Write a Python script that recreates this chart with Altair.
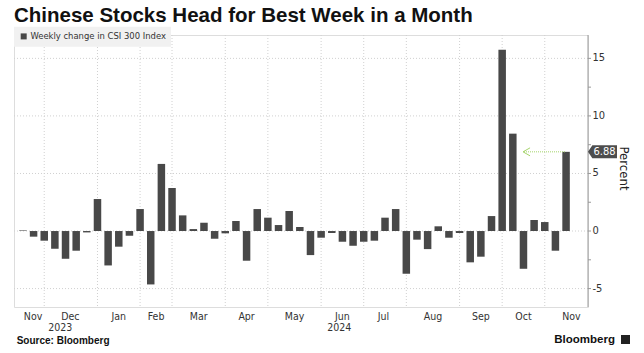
import altair as alt
import pandas as pd

# ---------------- data ----------------
week_index = list(range(1, 53))
weekly_change = [0.05, -0.49, -0.84, -1.54, -2.41, -1.71, -0.12, 2.78, -2.99, -1.36,
                 -0.41, 1.91, -4.64, 5.83, 3.74, 1.36, 0.17, 0.72, -0.67, -0.20,
                 0.87, -2.58, 1.91, 1.16, 0.52, 1.74, 0.35, -2.09, -0.58, -0.17,
                 -0.93, -1.28, -0.93, -0.84, 1.16, 1.91, -3.71, -0.75, -1.57, 0.41,
                 -0.58, -0.17, -2.72, -2.23, 1.30, 15.74, 8.46, -3.28, 0.96, 0.78,
                 -1.71, 6.88]
series_name = "Weekly change in CSI 300 Index"

month_boundaries = [3, 8, 12, 15, 20, 24, 29, 33, 37, 42, 46, 50]
month_label_pos = [1.95, 5.45, 10.0, 13.5, 17.5, 22.0, 26.5, 31.0, 34.85, 39.5, 44.0, 48.0, 52.5]
month_names = ["Nov", "Dec", "Jan", "Feb", "Mar", "Apr", "May", "Jun", "Jul", "Aug", "Sep", "Oct", "Nov"]
year_pos = [4.51, 30.71]
year_labels = ["2023", "2024"]

y_grid = [-5, 0, 5, 10, 15]
y_grid_labels = ["-5", "0", "5", "10", "15"]
y_minor = [-2.5, 2.5, 7.5, 12.5]
y_title = ["Percent"]

last_value = [6.88]
last_label = ["6.88"]
arrow_from = [51.9]
arrow_to = [47.96]

title_text = ["Chinese Stocks Head for Best Week in a Month"]
source_text = ["Source: Bloomberg"]
brand_text = ["Bloomberg"]

# ---------------- layout ----------------
W, H = 574, 272
X_DOMAIN = [0.631, 53.59]
Y_DOMAIN = [-6.60, 17.03]
FONT = "DejaVu Sans Condensed, DejaVu Sans"
BAR = "#484848"
GRID = "#d0d0d0"
AXIS = "#9a9a9a"

xs = alt.Scale(domain=X_DOMAIN, nice=False, zero=False)
ys = alt.Scale(domain=Y_DOMAIN, nice=False, zero=False)

bars_df = pd.DataFrame({"week": week_index, "change": weekly_change, "series": series_name})
vgrid_df = pd.DataFrame({"pos": month_boundaries})
hgrid_df = pd.DataFrame({"val": y_grid, "label": y_grid_labels})
minor_df = pd.DataFrame({"val": y_minor})
month_df = pd.DataFrame({"pos": month_label_pos, "label": month_names})
year_df = pd.DataFrame({"pos": year_pos, "label": year_labels})
annot_df = pd.DataFrame({"val": last_value, "label": last_label, "x1": arrow_from, "x2": arrow_to})
ytitle_df = pd.DataFrame({"t": y_title})
title_df = pd.DataFrame({"t": title_text})
source_df = pd.DataFrame({"t": source_text})
brand_df = pd.DataFrame({"t": brand_text})

vgrid = alt.Chart(vgrid_df).mark_rule(color=GRID, strokeDash=[1, 2], strokeWidth=1).encode(
    x=alt.X("pos:Q", scale=xs, axis=None),
    y=alt.value(0), y2=alt.value(H),
)

hgrid = alt.Chart(hgrid_df).mark_rule(color=GRID, strokeDash=[1, 2], strokeWidth=1).encode(
    y=alt.Y("val:Q", scale=ys, axis=None),
    x=alt.value(0), x2=alt.value(W),
)

# right-hand value axis: domain, ticks, labels, title
y_domain_line = alt.Chart(ytitle_df).mark_rule(color=AXIS, strokeWidth=1).encode(
    x=alt.value(W), y=alt.value(0), y2=alt.value(H),
)

major_ticks = alt.Chart(hgrid_df).mark_rule(color=AXIS, strokeWidth=1).encode(
    y=alt.Y("val:Q", scale=ys, axis=None),
    x=alt.value(W), x2=alt.value(W + 3),
)

minor_ticks = alt.Chart(minor_df).mark_rule(color=AXIS, strokeWidth=1).encode(
    y=alt.Y("val:Q", scale=ys, axis=None),
    x=alt.value(W), x2=alt.value(W + 3),
)

y_labels = alt.Chart(hgrid_df).mark_text(font=FONT, fontSize=11, color="#333333",
                                         align="left", baseline="middle").encode(
    y=alt.Y("val:Q", scale=ys, axis=None),
    x=alt.value(W + 4.5),
    text="label:N",
)

y_title_mark = alt.Chart(ytitle_df).mark_text(font=FONT, fontSize=13, color="#222222",
                                               align="center", baseline="middle", angle=90).encode(
    x=alt.value(W + 36), y=alt.value(133.5), text="t:N",
)

bars = alt.Chart(bars_df).mark_bar(width=7.5).encode(
    x=alt.X("week:Q", scale=xs, axis=None),
    y=alt.Y("change:Q", scale=ys, axis=None),
    color=alt.Color("series:N", scale=alt.Scale(range=[BAR]),
                    legend=alt.Legend(title=None, orient="none", legendX=0, legendY=-8.3,
                                      fillColor="#f1f1f1", padding=5, symbolType="square",
                                      symbolSize=36, symbolStrokeWidth=0, labelFont=FONT,
                                      labelFontSize=9.4, labelColor="#333333", labelOffset=2)),
)

months = alt.Chart(month_df).mark_text(font=FONT, fontSize=10.5, color="#333333",
                                       baseline="alphabetic", align="center").encode(
    x=alt.X("pos:Q", scale=xs, axis=None),
    y=alt.value(284.7),
    text="label:N",
)

years = alt.Chart(year_df).mark_text(font=FONT, fontSize=10.5, color="#333333",
                                     baseline="alphabetic", align="center").encode(
    x=alt.X("pos:Q", scale=xs, axis=None),
    y=alt.value(296.3),
    text="label:N",
)

arrow_line = alt.Chart(annot_df).mark_rule(color="#a5d46a", strokeDash=[1, 1], strokeWidth=1).encode(
    x=alt.X("x1:Q", scale=xs, axis=None),
    x2="x2:Q",
    y=alt.Y("val:Q", scale=ys, axis=None),
)

arrow_head = alt.Chart(annot_df).mark_point(
    shape="M 1.75 -1 L 0 0 L 1.75 1", filled=False, size=64,
    color="#a5d46a", strokeWidth=1, opacity=1,
).encode(
    x=alt.X("x2:Q", scale=xs, axis=None),
    y=alt.Y("val:Q", scale=ys, axis=None),
)

label_box = alt.Chart(annot_df).mark_point(
    shape="M -1 0 L -0.7 -0.45 L 1 -0.45 L 1 0.45 L -0.7 0.45 Z",
    filled=True, size=841, color="#4d4d4d", opacity=1, strokeWidth=0,
).encode(
    x=alt.value(W + 14.5),
    y=alt.Y("val:Q", scale=ys, axis=None),
)

label_text = alt.Chart(annot_df).mark_text(font=FONT, fontSize=11, color="white",
                                           align="center", baseline="middle").encode(
    x=alt.value(W + 16.5),
    y=alt.Y("val:Q", scale=ys, axis=None),
    text="label:N",
)

title = alt.Chart(title_df).mark_text(font="Liberation Sans", fontSize=20.5, fontWeight="bold",
                                       color="#111111", align="left", baseline="alphabetic").encode(
    x=alt.value(0), y=alt.value(-13.3), text="t:N",
)

source = alt.Chart(source_df).mark_text(font="Liberation Sans", fontSize=10, fontWeight="bold",
                                         color="#111111", align="left", baseline="alphabetic").encode(
    x=alt.value(2.7), y=alt.value(308.7), text="t:N",
)

brand = alt.Chart(brand_df).mark_text(font="Liberation Sans", fontSize=11.5, fontWeight="bold",
                                       color="#111111", align="right", baseline="alphabetic").encode(
    x=alt.value(601), y=alt.value(308), text="t:N",
)

brand_icon = alt.Chart(brand_df).mark_point(shape="square", filled=True, size=81,
                                             color="#222222", opacity=1).encode(
    x=alt.value(611.5), y=alt.value(304.5),
)

chart = alt.layer(
    vgrid, hgrid, y_domain_line, major_ticks, minor_ticks, y_labels, y_title_mark,
    bars, months, years, arrow_line, arrow_head, label_box, label_text,
    title, source, brand, brand_icon,
).properties(
    width=W, height=H,
    padding={"left": 14, "top": 35, "right": 56, "bottom": 46},
    autosize=alt.AutoSizeParams(type="none"),
).configure_view(stroke=None).configure(background="white")

chart.save("out.html", embed_options={"renderer": "svg", "actions": False})
